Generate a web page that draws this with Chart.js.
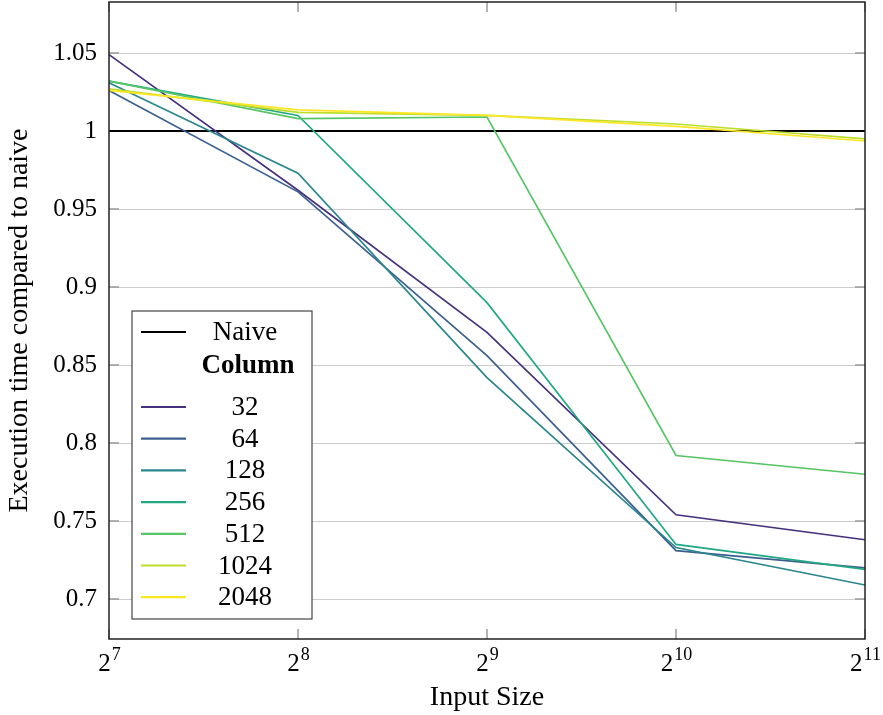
<!DOCTYPE html>
<html>
<head>
<meta charset="utf-8">
<script src="https://cdn.jsdelivr.net/npm/chart.js@4/dist/chart.umd.min.js"></script>
<style>
  html, body { margin: 0; padding: 0; background: #fff; }
</style>
</head>
<body>
<canvas id="chart" width="883" height="715"></canvas>
<script>
// x categories are powers of two, stored as exponents
const exponents = [7, 8, 9, 10, 11];
const categories = exponents.map(e => '2^' + e);
const yTickValues = [0.7, 0.75, 0.8, 0.85, 0.9, 0.95, 1, 1.05];

const naive = [1, 1, 1, 1, 1];
const col32 = [1.049, 0.962, 0.871, 0.754, 0.738];
const col64 = [1.026, 0.961, 0.856, 0.731, 0.720];
const col128 = [1.031, 0.973, 0.842, 0.733, 0.709];
const col256 = [1.032, 1.010, 0.890, 0.735, 0.719];
const col512 = [1.032, 1.008, 1.009, 0.792, 0.780];
const col1024 = [1.027, 1.012, 1.010, 1.0045, 0.995];
const col2048 = [1.026, 1.0135, 1.010, 1.003, 0.9936];

const columnLabels = ['32', '64', '128', '256', '512', '1024', '2048'];
const columnSeries = [col32, col64, col128, col256, col512, col1024, col2048];
const columnColors = ['#46317e', '#3b5f8e', '#2a878d', '#23a884', '#56c566', '#bcdd2b', '#fde725'];

const serif = "'Liberation Serif', 'DejaVu Serif', serif";
const fontSize = 25;
const titleSize = 28;
const legendSize = 27;

const datasets = [{
  label: 'Naive',
  data: naive,
  borderColor: '#000',
  borderWidth: 2,
  pointRadius: 0,
  order: 20
}];
columnSeries.forEach((data, i) => {
  datasets.push({
    label: columnLabels[i],
    data: data,
    borderColor: columnColors[i],
    borderWidth: 1.7,
    pointRadius: 0,
    tension: 0,
    order: 10 - i
  });
});

// inner tick marks go under the lines
const tickMarks = {
  id: 'tickMarks',
  beforeDatasetsDraw(chart) {
    const ctx = chart.ctx;
    const { left, right, top, bottom } = chart.chartArea;
    const xs = chart.scales.x;
    const ys = chart.scales.y;
    const len = 10;
    ctx.save();
    ctx.strokeStyle = '#9a9a9a';
    ctx.lineWidth = 1.5;
    ctx.beginPath();
    exponents.forEach((e, i) => {
      const x = xs.getPixelForTick(i);
      ctx.moveTo(x, bottom); ctx.lineTo(x, bottom - len);
      ctx.moveTo(x, top); ctx.lineTo(x, top + len);
    });
    yTickValues.forEach(v => {
      const y = ys.getPixelForValue(v);
      ctx.moveTo(left, y); ctx.lineTo(left + len, y);
      ctx.moveTo(right, y); ctx.lineTo(right - len, y);
    });
    ctx.stroke();
    ctx.restore();
  }
};

// frame, x labels with exponents, and the boxed legend
const decorations = {
  id: 'decorations',
  afterDatasetsDraw(chart) {
    const ctx = chart.ctx;
    const { left, right, top, bottom } = chart.chartArea;
    const xs = chart.scales.x;
    ctx.save();

    // frame
    ctx.strokeStyle = '#222';
    ctx.lineWidth = 1.5;
    ctx.strokeRect(left, top, right - left, bottom - top);

    // x tick labels: 2 with raised exponent
    ctx.fillStyle = '#000';
    ctx.textBaseline = 'alphabetic';
    exponents.forEach((e, i) => {
      const x = xs.getPixelForTick(i);
      ctx.font = fontSize + 'px ' + serif;
      const baseW = ctx.measureText('2').width;
      ctx.font = Math.round(fontSize * 0.7) + 'px ' + serif;
      const expW = ctx.measureText(String(e)).width;
      const x0 = x - (baseW + expW) / 2;
      ctx.font = fontSize + 'px ' + serif;
      ctx.textAlign = 'left';
      ctx.fillText('2', x0, bottom + 32);
      ctx.font = Math.round(fontSize * 0.7) + 'px ' + serif;
      ctx.fillText(String(e), x0 + baseW + 1, bottom + 21);
    });

    // legend box
    const bx = left + 23, by = bottom - 328, bw = 180, bh = 308;
    ctx.fillStyle = '#fff';
    ctx.fillRect(bx, by, bw, bh);
    ctx.strokeStyle = '#444';
    ctx.lineWidth = 1.2;
    ctx.strokeRect(bx, by, bw, bh);

    const textX = bx + 113;
    const lineX0 = bx + 9, lineX1 = bx + 54;
    ctx.textAlign = 'center';
    ctx.textBaseline = 'middle';
    const rows = [{ label: 'Naive', color: '#000', y: by + 21 }, { label: 'Column', bold: true, y: by + 54 }];
    columnLabels.forEach((lab, i) => {
      rows.push({ label: lab, color: columnColors[i], y: by + 96 + i * 31.7 });
    });
    rows.forEach(r => {
      if (r.color) {
        ctx.strokeStyle = r.color;
        ctx.lineWidth = r.label === 'Naive' ? 2 : 2.2;
        ctx.beginPath();
        ctx.moveTo(lineX0, r.y); ctx.lineTo(lineX1, r.y);
        ctx.stroke();
      }
      ctx.fillStyle = '#000';
      ctx.font = (r.bold ? 'bold ' : '') + legendSize + 'px ' + serif;
      ctx.fillText(r.label, r.bold ? textX + 3 : textX, r.y + 1);
    });

    // x axis title
    ctx.font = titleSize + 'px ' + serif;
    ctx.textAlign = 'center';
    ctx.fillText('Input Size', (left + right) / 2, bottom + 59);

    ctx.restore();
  }
};

new Chart(document.getElementById('chart').getContext('2d'), {
  type: 'line',
  data: { labels: categories, datasets: datasets },
  plugins: [tickMarks, decorations],
  options: {
    responsive: false,
    animation: false,
    layout: { padding: { left: 0, right: 18, top: 2, bottom: 0 } },
    plugins: { legend: { display: false }, tooltip: { enabled: false } },
    scales: {
      x: {
        type: 'category',
        offset: false,
        grid: { display: false },
        border: { display: false },
        ticks: { display: false },
        afterFit(scale) {
          scale.height = 76;
          scale.paddingLeft = 0;
          scale.paddingRight = 0;
        }
      },
      y: {
        min: 0.6744,
        max: 1.0827,
        afterBuildTicks(scale) {
          scale.ticks = yTickValues.map(v => ({ value: v }));
        },
        grid: { color: '#cccccc', lineWidth: 1, drawTicks: false },
        border: { display: false },
        ticks: {
          color: '#000',
          padding: 12,
          font: { family: serif, size: fontSize },
          callback: v => String(v)
        },
        title: {
          display: true,
          text: 'Execution time compared to naive',
          color: '#000',
          font: { family: serif, size: titleSize },
          padding: { top: 3, bottom: 0 }
        },
        afterFit(scale) {
          scale.width = 109;
          scale.paddingTop = 0;
          scale.paddingBottom = 0;
        }
      }
    }
  }
});
</script>
</body>
</html>
